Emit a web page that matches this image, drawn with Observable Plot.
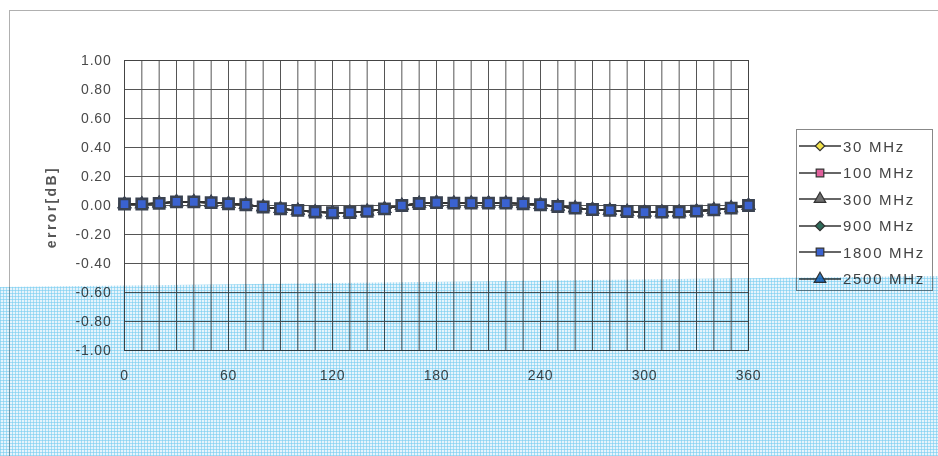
<!DOCTYPE html>
<html>
<head>
<meta charset="utf-8">
<script src="https://cdn.jsdelivr.net/npm/d3@7"></script>
<script src="https://cdn.jsdelivr.net/npm/@observablehq/plot@0.6"></script>
<style>
  html, body { margin: 0; padding: 0; background: #fff; }
  #wrap { position: relative; width: 938px; height: 456px; overflow: hidden; font-family: "Liberation Sans", Arial, sans-serif; }
  #frame { position: absolute; left: 9px; top: 10px; width: 940px; height: 460px; border-top: 1.5px solid #b0b0b0; border-left: 1.5px solid #b0b0b0; }
  #chart { position: absolute; left: 0; top: 0; }
  #legend { position: absolute; left: 796px; top: 129px; width: 137px; height: 162px; border: 1px solid #888; background: #fff; box-sizing: border-box; }
  .row { position: absolute; left: 2px; height: 20px; display: flex; align-items: center; font-size: 15px; color: #444; letter-spacing: 1.7px; }
  .row svg { margin-right: 2px; }
  #ylab { position: absolute; left: 51px; top: 207px; transform: translate(-50%, -50%) rotate(-90deg); font-size: 14px; font-weight: bold; color: #555; letter-spacing: 2.4px; white-space: nowrap; }
  #scan { position: absolute; left: 0; top: 0; width: 938px; height: 456px; pointer-events: none; mix-blend-mode: multiply;
    clip-path: polygon(0 287px, 938px 276px, 938px 456px, 0 456px);
    background-color: #e6f4fc;
    background-image: repeating-linear-gradient(90deg, rgba(120,205,240,0.6) 0 1px, transparent 1px 3px),
                      repeating-linear-gradient(0deg, rgba(120,205,240,0.6) 0 1px, transparent 1px 3px); }
</style>
</head>
<body>
<div id="wrap">
  <div id="frame"></div>
  <div id="chart"></div>
  <div id="ylab">error[dB]</div>
  <div id="legend"></div>
  <div id="scan"></div>
</div>
<script>
// ---- data ----
const angles = [0,10,20,30,40,50,60,70,80,90,100,110,120,130,140,150,160,170,180,190,200,210,220,230,240,250,260,270,280,290,300,310,320,330,340,350,360];
const err30   = [0.01,0.01,0.015,0.025,0.025,0.02,0.012,0.005,-0.01,-0.022,-0.034,-0.045,-0.05,-0.048,-0.04,-0.023,0.0,0.014,0.02,0.016,0.016,0.016,0.016,0.012,0.005,-0.007,-0.018,-0.028,-0.034,-0.041,-0.046,-0.046,-0.046,-0.039,-0.03,-0.018,0.0];
const err100  = [0.01,0.01,0.015,0.025,0.025,0.02,0.012,0.005,-0.01,-0.022,-0.034,-0.045,-0.05,-0.048,-0.04,-0.023,0.0,0.014,0.02,0.016,0.016,0.016,0.016,0.012,0.005,-0.007,-0.018,-0.028,-0.034,-0.041,-0.046,-0.046,-0.046,-0.039,-0.03,-0.018,0.0];
const err300  = [0.01,0.01,0.015,0.025,0.025,0.02,0.012,0.005,-0.01,-0.022,-0.034,-0.045,-0.05,-0.048,-0.04,-0.023,0.0,0.014,0.02,0.016,0.016,0.016,0.016,0.012,0.005,-0.007,-0.018,-0.028,-0.034,-0.041,-0.046,-0.046,-0.046,-0.039,-0.03,-0.018,0.0];
const err900  = [0.01,0.01,0.015,0.025,0.025,0.02,0.012,0.005,-0.01,-0.022,-0.034,-0.045,-0.05,-0.048,-0.04,-0.023,0.0,0.014,0.02,0.016,0.016,0.016,0.016,0.012,0.005,-0.007,-0.018,-0.028,-0.034,-0.041,-0.046,-0.046,-0.046,-0.039,-0.03,-0.018,0.0];
const err1800 = [0.01,0.01,0.015,0.025,0.025,0.02,0.012,0.005,-0.01,-0.022,-0.034,-0.045,-0.05,-0.048,-0.04,-0.023,0.0,0.014,0.02,0.016,0.016,0.016,0.016,0.012,0.005,-0.007,-0.018,-0.028,-0.034,-0.041,-0.046,-0.046,-0.046,-0.039,-0.03,-0.018,0.0];
const err2500 = [0.01,0.01,0.015,0.025,0.025,0.02,0.012,0.005,-0.01,-0.022,-0.034,-0.045,-0.05,-0.048,-0.04,-0.023,0.0,0.014,0.02,0.016,0.016,0.016,0.016,0.012,0.005,-0.007,-0.018,-0.028,-0.034,-0.041,-0.046,-0.046,-0.046,-0.039,-0.03,-0.018,0.0];
const seriesNames = ["30 MHz","100 MHz","300 MHz","900 MHz","1800 MHz","2500 MHz"];
const xTicks = [0,60,120,180,240,300,360];
const yTicks = [-1,-0.8,-0.6,-0.4,-0.2,0,0.2,0.4,0.6,0.8,1];
const xGrid = d3.range(0, 361, 10);

// ---- styles per series ----
const styles = {
  "30 MHz":   {symbol: "diamond2", fill: "#f2e24a", r: 4},
  "100 MHz":  {symbol: "square",   fill: "#e0609c", r: 4.5},
  "300 MHz":  {symbol: "triangle", fill: "#6e6e6e", r: 3.8},
  "900 MHz":  {symbol: "diamond2", fill: "#2e6b5a", r: 4},
  "1800 MHz": {symbol: "square",   fill: "#3a62d0", r: 5.8},
  "2500 MHz": {symbol: "triangle", fill: "#2f78c0", r: 3.8}
};
const valuesList = [err30, err100, err300, err900, err1800, err2500];
const table = seriesNames.map((s, i) => angles.map((a, j) => ({angle: a, err: valuesList[i][j], series: s})));
const drawOrder = ["30 MHz","100 MHz","300 MHz","900 MHz","2500 MHz","1800 MHz"];

const marks = [
  Plot.ruleX(xGrid, {stroke: "#555", strokeWidth: 1}),
  Plot.ruleY(yTicks, {stroke: "#555", strokeWidth: 1}),
  Plot.frame({stroke: "#444", strokeWidth: 1})
];
for (const s of drawOrder) {
  const d = table[seriesNames.indexOf(s)];
  marks.push(Plot.line(d, {x: "angle", y: "err", stroke: "#333", strokeWidth: 1.6}));
}
for (const s of drawOrder) {
  const d = table[seriesNames.indexOf(s)];
  const st = styles[s];
  marks.push(Plot.dot(d, {x: "angle", y: "err", symbol: () => st.symbol, fill: st.fill, stroke: "#3a4250", strokeWidth: 2.6, r: st.r}));
}

const chart = Plot.plot({
  width: 938, height: 456,
  marginLeft: 124, marginRight: 190, marginTop: 60, marginBottom: 106,
  style: {fontFamily: "Liberation Sans, Arial, sans-serif", fontSize: "14px", color: "#4a4a4a", background: "transparent"},
  x: {domain: [0, 360], ticks: xTicks, tickSize: 0, tickPadding: 20, label: null},
  y: {domain: [-1, 1], ticks: yTicks, tickSize: 0, tickPadding: 13, tickFormat: d => d.toFixed(2), label: null},
  symbol: {type: "identity"},
  marks
});
chart.querySelectorAll("text").forEach(t => t.setAttribute("letter-spacing", "0.8"));
document.getElementById("chart").appendChild(chart);

// ---- legend ----
const legend = document.getElementById("legend");
seriesNames.forEach((s, i) => {
  const st = styles[s];
  const row = document.createElement("div");
  row.className = "row";
  row.style.top = (6 + i * 26.5) + "px";
  const svg = d3.create("svg").attr("width", 42).attr("height", 20);
  svg.append("line").attr("x1", 0).attr("x2", 42).attr("y1", 10).attr("y2", 10).attr("stroke", "#333").attr("stroke-width", 1.6);
  const sym = {square: d3.symbolSquare, triangle: d3.symbolTriangle, diamond2: d3.symbolDiamond2}[st.symbol];
  const rr = 4.8;
  svg.append("path").attr("transform", "translate(21,10)").attr("d", d3.symbol(sym, Math.PI * rr * rr * 0.8)())
     .attr("fill", st.fill).attr("stroke", "#333").attr("stroke-width", 1.2);
  row.appendChild(svg.node());
  const span = document.createElement("span");
  span.textContent = s;
  row.appendChild(span);
  legend.appendChild(row);
});
</script>
</body>
</html>
